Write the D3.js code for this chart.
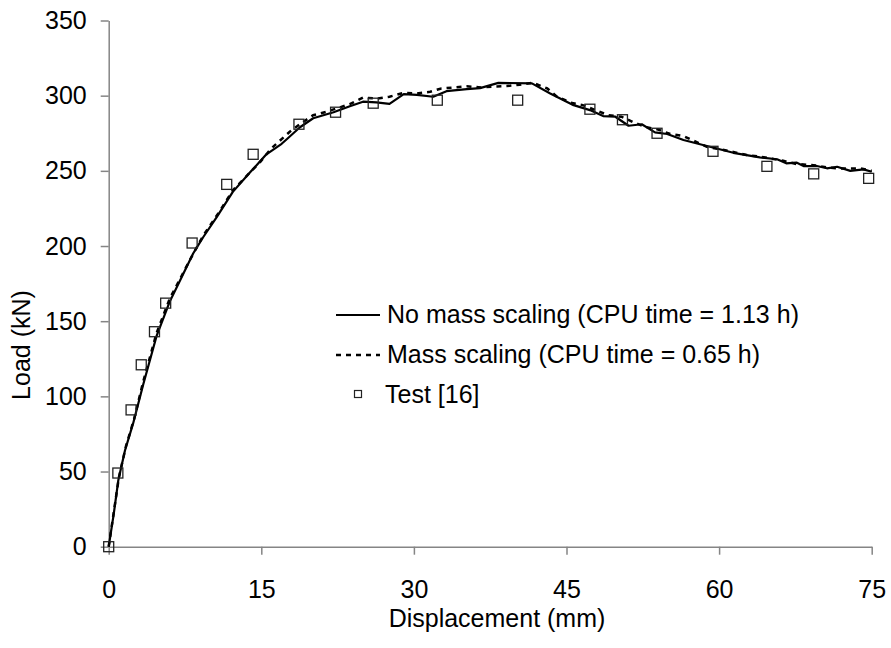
<!DOCTYPE html>
<html>
<head>
<meta charset="utf-8">
<script src="https://cdn.jsdelivr.net/npm/d3@7"></script>
<style>
  body { margin: 0; background: #fff; }
  svg text { font-family: Arial, "Liberation Sans", sans-serif; fill: #000; }
</style>
</head>
<body>
<div id="chart"></div>
<script>
// Displacement (mm) / load (kN) pairs
const noMassScaling = [
  [0, 0], [0.5, 22], [0.94, 44], [1.6, 64], [2.4, 82], [3.4, 108], [4.7, 140], [6.0, 163],
  [7.3, 181], [8.3, 195], [9.3, 206], [10.6, 219], [12.2, 236], [13.9, 249], [15.5, 261],
  [17.0, 268], [17.5, 271], [18.8, 279], [20.1, 285], [22.1, 289], [23.7, 293], [25.0, 296],
  [26.3, 295.5], [27.6, 294.5], [29.0, 301], [30.3, 300.5], [31.9, 299.3], [33.2, 303],
  [35.2, 304.4], [36.5, 305], [38.3, 308.5], [41.6, 308.2], [43.4, 301.5], [45.7, 293.7],
  [47.3, 290.4], [48.6, 286.4], [49.8, 286], [51.1, 280], [52.4, 281], [53.7, 275.6],
  [54.9, 274.5], [56.5, 270.5], [58.8, 266.5], [61.4, 262], [64.0, 259], [65.7, 257.7],
  [66.6, 255], [67.6, 255.5], [68.3, 253.2], [69.6, 253.2], [70.6, 251.7], [71.6, 252.7],
  [72.9, 250], [74.2, 251], [75, 249.4]
];

const massScaling = [
  [0, 0], [0.5, 23], [1.0, 46], [1.7, 67], [2.5, 85], [3.4, 110], [4.7, 142], [6.0, 165],
  [6.7, 174], [8.0, 191], [9.3, 207], [10.8, 222], [12.2, 237], [13.1, 243.4], [14.9, 256],
  [16.0, 265], [17.8, 276], [19.0, 282], [20.1, 287], [21.4, 289.3], [23.7, 294.4],
  [25.0, 298.8], [26.3, 298], [27.6, 299.3], [29.0, 301.9], [30.3, 301.5], [31.6, 302.6],
  [32.7, 304.8], [34.0, 305.5], [35.2, 306.2], [36.6, 305.5], [37.8, 306], [39.1, 306.4],
  [40.4, 307.3], [41.7, 308.6], [43.1, 304.8], [44.0, 299.7], [45.4, 295.3], [46.6, 293.7],
  [48.0, 290], [49.1, 287], [50.4, 286], [51.5, 282.6], [52.7, 279.3], [54.0, 277.5],
  [55.2, 274.5], [56.5, 273.1], [58.8, 266], [60.1, 264.3], [61.4, 262.6], [62.7, 260.5],
  [64.0, 259.5], [66.3, 256.7], [67.6, 254.5], [69.3, 253.8], [70.6, 252.3], [71.6, 251.6],
  [73.9, 251.6], [75, 250]
];

const testData = [
  [0, 0], [0.9, 49], [2.2, 91], [3.2, 121], [4.5, 143], [5.6, 162], [8.2, 202], [11.6, 241],
  [14.2, 261], [18.7, 281], [22.3, 289], [26.0, 295], [32.3, 297], [40.2, 297], [47.3, 291],
  [50.5, 284], [53.9, 275], [59.4, 263], [64.7, 253], [69.3, 248], [74.7, 245]
];

const xTicks = [0, 15, 30, 45, 60, 75];
const yTicks = [0, 50, 100, 150, 200, 250, 300, 350];
const legendLabels = [
  "No mass scaling (CPU time = 1.13 h)",
  "Mass scaling (CPU time = 0.65 h)",
  "Test [16]"
];

const width = 891, height = 648;
const axisColor = "#858585";
const fontSize = 25;

const svg = d3.select("#chart").append("svg")
  .attr("width", width)
  .attr("height", height);

const x = d3.scaleLinear().domain([0, 75]).range([108.7, 871.7]);
const y = d3.scaleLinear().domain([0, 350]).range([546.7, 20.5]);

// Axes
const xAxis = svg.append("g")
  .attr("transform", `translate(0,${y(0)})`)
  .call(d3.axisBottom(x).tickValues(xTicks).tickSize(8).tickPadding(26).tickSizeOuter(0));

const yAxis = svg.append("g")
  .attr("transform", `translate(${x(0)},0)`)
  .call(d3.axisLeft(y).tickValues(yTicks).tickSize(8).tickPadding(14).tickSizeOuter(0));

[xAxis, yAxis].forEach((g) => {
  g.selectAll("path, line").attr("stroke", axisColor).attr("stroke-width", 1.5);
  g.selectAll("text").attr("font-size", fontSize).attr("font-family", "Arial, 'Liberation Sans', sans-serif").attr("fill", "#000");
});

// Axis titles
svg.append("text")
  .attr("x", 497)
  .attr("y", 627)
  .attr("text-anchor", "middle")
  .attr("font-size", fontSize)
  .text("Displacement (mm)");

svg.append("text")
  .attr("transform", `translate(30,345) rotate(-90)`)
  .attr("text-anchor", "middle")
  .attr("font-size", fontSize)
  .text("Load (kN)");

// Curves
const line = d3.line()
  .x((d) => x(d[0]))
  .y((d) => y(d[1]));

svg.append("path")
  .datum(massScaling)
  .attr("fill", "none")
  .attr("stroke", "#000")
  .attr("stroke-width", 2.5)
  .attr("stroke-dasharray", "5,5")
  .attr("d", line);

svg.append("path")
  .datum(noMassScaling)
  .attr("fill", "none")
  .attr("stroke", "#000")
  .attr("stroke-width", 2.2)
  .attr("stroke-linejoin", "round")
  .attr("d", line);

// Test markers
const sq = 10;
svg.append("g")
  .selectAll("rect")
  .data(testData)
  .join("rect")
  .attr("x", (d) => x(d[0]) - sq / 2)
  .attr("y", (d) => y(d[1]) - sq / 2)
  .attr("width", sq)
  .attr("height", sq)
  .attr("fill", "none")
  .attr("stroke", "#222")
  .attr("stroke-width", 1.3);

// Legend
const legend = svg.append("g").attr("transform", "translate(336,315)");
const rowGap = 40;

legend.append("line")
  .attr("x1", 0).attr("x2", 44).attr("y1", 0).attr("y2", 0)
  .attr("stroke", "#000").attr("stroke-width", 2.2);

legend.append("line")
  .attr("x1", 0).attr("x2", 44).attr("y1", rowGap).attr("y2", rowGap)
  .attr("stroke", "#000").attr("stroke-width", 2.5).attr("stroke-dasharray", "5,5");

legend.append("rect")
  .attr("x", 22 - 3.5).attr("y", rowGap * 2 - 4.5)
  .attr("width", 7).attr("height", 7)
  .attr("fill", "none").attr("stroke", "#222").attr("stroke-width", 1.2);

legend.selectAll("text.label")
  .data(legendLabels)
  .join("text")
  .attr("class", "label")
  .attr("x", (d, i) => (i === 2 ? 49 : 51))
  .attr("y", (d, i) => i * rowGap + 8)
  .attr("font-size", fontSize)
  .text((d) => d);
</script>
</body>
</html>
